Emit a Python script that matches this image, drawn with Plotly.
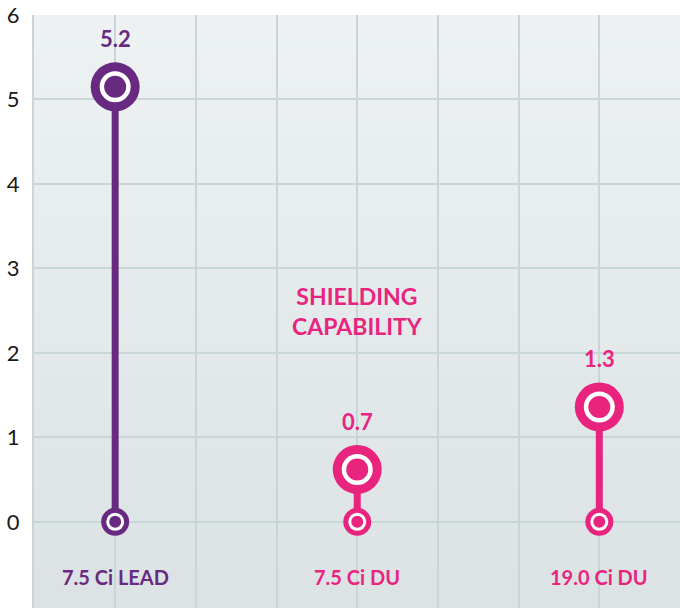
import plotly.graph_objects as go

categories = ["7.5 Ci LEAD", "7.5 Ci DU", "19.0 Ci DU"]
values = [5.15, 0.62, 1.36]
value_labels = ["5.2", "0.7", "1.3"]
y_ticks = [0, 1, 2, 3, 4, 5, 6]

PURPLE = "#682A80"
PINK = "#E8247F"
colors = [PURPLE, PINK, PINK]
FONT = "Lato"

x_pos = [3 * i for i in range(len(categories))]

fig = go.Figure()

# subtle vertical gradient background (bands below gridlines)
top = (237, 241, 242)
bot = (220, 227, 228)
n = 30
y0, y1 = -1.02, 6.0
for i in range(n):
    t = i / (n - 1)
    c = tuple(round(top[k] + (bot[k] - top[k]) * t) for k in range(3))
    fig.add_shape(type="rect", xref="paper", x0=0, x1=1, yref="y",
                  y0=y1 - (y1 - y0) * (i + 1) / n - 0.01, y1=y1 - (y1 - y0) * i / n,
                  fillcolor="rgb(%d,%d,%d)" % c, line_width=0, layer="below")

for x, v, c in zip(x_pos, values, colors):
    fig.add_trace(go.Scatter(x=[x, x], y=[0, v], mode="lines",
                             line=dict(color=c, width=7), hoverinfo="skip"))
    # big marker at value
    for size, col in [(49, c), (31, "white"), (22, c)]:
        fig.add_trace(go.Scatter(x=[x], y=[v], mode="markers",
                                 marker=dict(size=size, color=col, line_width=0),
                                 hoverinfo="skip"))
    # small marker at zero
    for size, col in [(28, c), (18, "white"), (12, c)]:
        fig.add_trace(go.Scatter(x=[x], y=[0], mode="markers",
                                 marker=dict(size=size, color=col, line_width=0),
                                 hoverinfo="skip"))

for x, v, lab, c in zip(x_pos, values, value_labels, colors):
    fig.add_annotation(x=x, y=v, text="<b>%s</b>" % lab, showarrow=False,
                       yshift=48, font=dict(family=FONT, size=22, color=c))

for x, cat, c in zip(x_pos, categories, colors):
    fig.add_annotation(x=x, y=-0.65, text="<b>%s</b>" % cat, showarrow=False,
                       font=dict(family=FONT, size=20, color=c))

fig.add_annotation(x=3, y=2.5, text="<b>SHIELDING<br>CAPABILITY</b>", showarrow=False,
                   font=dict(family=FONT, size=23, color=PINK))

GRID = "#C8D6D8"
fig.update_layout(
    width=680, height=608,
    margin=dict(l=34, r=0, t=15, b=0),
    paper_bgcolor="white",
    plot_bgcolor="rgba(0,0,0,0)",
    showlegend=False,
    xaxis=dict(range=[-1.006, 7.0], dtick=1, tick0=0, showgrid=True, gridcolor=GRID,
               gridwidth=2, showticklabels=False, zeroline=False,
               showline=False, fixedrange=True),
    yaxis=dict(range=[-1.02, 6.0], tickvals=y_ticks, showgrid=True, gridcolor=GRID,
               gridwidth=2, zeroline=False, showline=True, linecolor=GRID, linewidth=2,
               ticks="", ticklabelstandoff=8,
               tickfont=dict(family=FONT, size=22, color="#1a1a1a"), fixedrange=True),
)

fig.write_html("out.html", config={"displayModeBar": False},
               post_script="document.body.style.margin='0px';")
